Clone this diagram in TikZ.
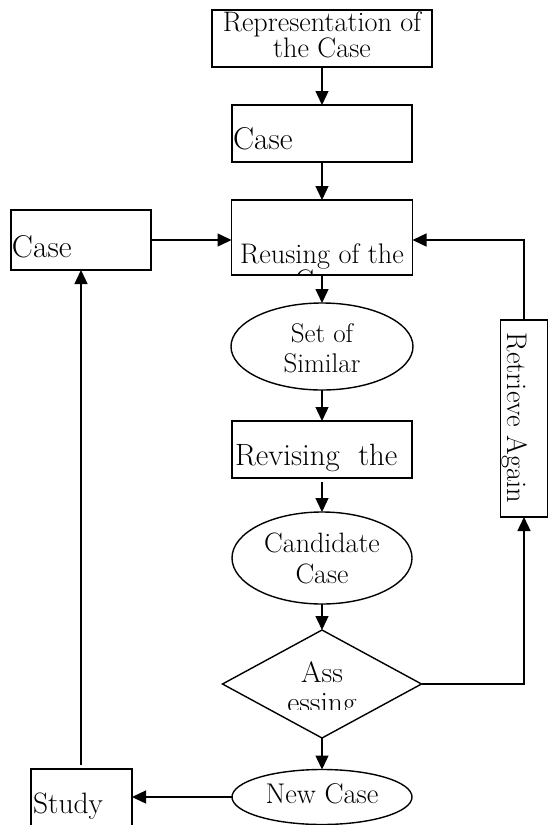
\documentclass[tikz,border=0pt]{standalone}
\usepackage{fontspec}
\usetikzlibrary{arrows.meta,shapes.geometric}
\newcommand\fz[1]{\fontsize{#1}{22}\selectfont}
\begin{document}
\begin{tikzpicture}[x=1pt,y=-1pt,
  shp/.style={draw,line width=1.4pt,inner sep=0pt,outer sep=0pt},
  boxs/.style={shp,rectangle},
  ell/.style={shp,ellipse},
  dia/.style={shp,diamond},
  arr/.style={-{Triangle[length=14pt,width=13pt]},line width=1.4pt},
  lbl/.style={inner sep=0pt,outer sep=0pt,anchor=base}]
\useasboundingbox (0,0) rectangle (549,825);
\fill[white] (0,0) rectangle (549,825);
\clip (0,0) rectangle (549,825);
% shapes
\node[boxs,minimum width=220pt,minimum height=57pt] (rep) at (322,38.5) {};
\node[boxs,minimum width=180pt,minimum height=57pt] (casebox) at (322,133.5) {};
\node[boxs,minimum width=181pt,minimum height=75pt] (reuse) at (322,237.5) {};
\node[boxs,minimum width=140pt,minimum height=60pt] (lcase) at (81,240) {};
\node[ell,minimum width=182pt,minimum height=87pt] (set) at (322,346.5) {};
\node[boxs,minimum width=180pt,minimum height=57pt] (revise) at (322,449.5) {};
\node[ell,minimum width=180pt,minimum height=92pt] (cand) at (322,558) {};
\node[dia,minimum width=199pt,minimum height=108pt] (assess) at (322,684) {};
\node[ell,minimum width=180pt,minimum height=55pt] (newc) at (322,797) {};
\node[boxs,minimum width=101pt,minimum height=91pt] (study) at (81.5,814.5) {};
\node[boxs,minimum width=47pt,minimum height=197pt] (retr) at (524,418.5) {};
% texts
\node[inner sep=0pt,align=center,font=\fz{28.2}] (t1) at (322,35) {Representation of\\the Case};
\node[lbl,anchor=base west,font=\fz{31.5}] (t3) at (233,149) {Case};
\node[lbl,anchor=base west,font=\fz{31.5}] (t4) at (12,257) {Case};
\node[lbl,font=\fz{28.3}] (t5) at (322,263) {Reusing of the};
\begin{scope}
\clip (reuse.north west) rectangle (reuse.south east);
\node[lbl,font=\fz{28.3}] (t5b) at (322,289.5) {Case};
\end{scope}
\node[lbl,font=\fz{27}] (t6) at (322,342) {Set of};
\node[lbl,font=\fz{27}] (t7) at (322,372) {Similar};
\node[lbl,anchor=base west,font=\fz{30.8}] (t8) at (235,465) {Revising\ \ the};
\node[lbl,font=\fz{28}] (t9) at (322,552) {Candidate};
\node[lbl,font=\fz{28}] (t10) at (322,583) {Case};
\node[lbl,font=\fz{29.6}] (t11) at (322,682) {Ass};
\begin{scope}
\clip (0,0) rectangle (549,709.5);
\node[lbl,font=\fz{29.6}] (t12) at (322,712) {essing};
\end{scope}
\node[lbl,font=\fz{28.5}] (t13) at (322,803) {New Case};
\node[lbl,anchor=base west,font=\fz{29.5}] (t14) at (33,813) {Study};
\node[lbl,rotate=-90,font=\fz{28.4}] (t15) at (507,418) {Retrieve Again};
% connectors
\draw[arr] (rep.south) -- (casebox.north);
\draw[arr] (casebox.south) -- (reuse.north);
\draw[arr] (reuse.south) -- (set.north);
\draw[arr] (set.south) -- (revise.north);
\draw[arr,shorten <=4pt] (revise.south) -- (cand.north);
\draw[arr] (cand.south) -- (assess.north);
\draw[arr] (assess.south) -- (newc.north);
\draw[arr] (newc.west) -- (newc.west -| study.east);
\draw[arr,shorten <=4pt] (study.north -| lcase.south) -- (lcase.south);
\draw[arr] (lcase.east) -- (lcase.east -| reuse.west);
\draw[arr] (retr.north) -- (retr.north |- lcase.east) -- (reuse.east |- lcase.east);
\draw[arr] (assess.east) -- (assess.east -| retr.south) -- (retr.south);
\end{tikzpicture}
\end{document}
